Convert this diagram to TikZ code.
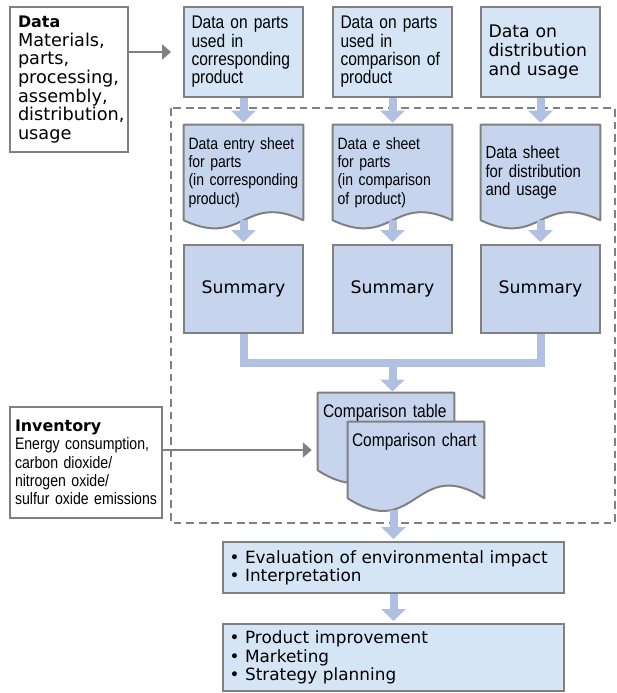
\documentclass[tikz,border=0pt]{standalone}
\usepackage{fontspec}
\newfontfamily\widefont{DejaVu Sans}
\newfontfamily\narrowfont[FakeStretch=0.85]{Liberation Sans}
\usetikzlibrary{arrows.meta,backgrounds}
\definecolor{Sky15}{HTML}{D5E5F5}
\definecolor{Sky30}{HTML}{C6D4EE}
\definecolor{Sky50}{HTML}{AFC0E3}
\definecolor{Black50}{HTML}{808080}
\hyphenpenalty=10000
\exhyphenpenalty=10000

% document outline with a wavy lower edge: #1 node, #2 wave depth
\newcommand{\docshape}[2]{%
  \path[docline] (#1.north west) -- (#1.north east) -- (#1.south east)
    .. controls ([yshift=#2]#1.south) and ([yshift=-#2]#1.south) .. (#1.south west)
    -- cycle;}

\begin{document}
\begin{tikzpicture}[
    box/.style={draw=Black50, line width=1.4pt, fill=Sky15, inner sep=0pt},
    colbox/.style={box, minimum width=2.975cm, minimum height=2.25cm,
      text width=2.6cm, align=left},
    sheet/.style={inner sep=0pt, minimum width=2.975cm, minimum height=2.375cm,
      text width=2.75cm, align=left, font=\narrowfont\fontsize{11.7}{13}\selectfont},
    sumbox/.style={box, fill=Sky30, minimum width=2.975cm, minimum height=2.2cm,
      font=\widefont\fontsize{12.3}{13.2}\selectfont},
    docline/.style={draw=Black50, line width=1.4pt, fill=Sky30, line join=round},
    flow/.style={Sky50, line width=0.2cm, -{Triangle[width=0.6cm, length=0.3cm]},
      shorten >=0.05cm},
    feed/.style={Black50, line width=2pt, -{Triangle[width=0.37cm, length=0.22cm]}},
  ]

  \useasboundingbox (0,0) rectangle (15.4,-17.325);

  % -------------------------------------------------------
  % Dashed frame round the processing steps
  % -------------------------------------------------------
  \draw[Black50, line width=1.4pt, dash pattern=on 5.5pt off 3.5pt]
    (4.275,-2.7) rectangle (15.375,-13.075);

  % -------------------------------------------------------
  % Input boxes
  % -------------------------------------------------------
  \node[box, fill=white, minimum width=2.95cm, minimum height=3.625cm,
        text width=2.55cm, align=left, font=\widefont\fontsize{12.6}{13.3}\selectfont]
    (data) at (1.725,-1.9875)
    {{\bfseries\fontsize{11.3}{13.3}\selectfont Data}\\Materials,\\parts,\\processing,\\assembly,\\distribution,\\usage};

  \node[colbox, font=\narrowfont\fontsize{13}{13}\selectfont] (topA) at (6.0875,-1.3)
    {Data on parts\\used in\\corresponding\\product};
  \node[colbox, font=\narrowfont\fontsize{13}{13}\selectfont] (topB) at (9.8125,-1.3)
    {Data on parts\\used in\\comparison of\\product};
  \node[colbox, font=\widefont\fontsize{12.3}{13.2}\selectfont] (topC) at (13.5125,-1.3)
    {Data on\\distribution\\and usage};

  % -------------------------------------------------------
  % Entry sheets and summaries
  % -------------------------------------------------------
  \node[sheet] (sheetA) at (6.0875,-4.3125)
    {Data entry sheet\\for parts\\(in corresponding\\product)};
  \node[sheet] (sheetB) at (9.8125,-4.3125)
    {Data e sheet\\for parts\\(in comparison\\of product)};
  \node[sheet, font=\narrowfont\fontsize{12.5}{13}\selectfont] (sheetC) at (13.5125,-4.3125)
    {Data sheet\\for distribution\\and usage};

  \node[sumbox] (sumA) at (6.0875,-7.225) {Summary};
  \node[sumbox] (sumB) at (9.8125,-7.225) {Summary};
  \node[sumbox] (sumC) at (13.5125,-7.225) {Summary};

  % -------------------------------------------------------
  % Comparison table and chart
  % -------------------------------------------------------
  \node[inner sep=0pt, minimum width=3.4cm, text width=3.15cm, align=left,
        text height=0.615cm, text depth=1.31cm,
        font=\narrowfont\fontsize{13}{13}\selectfont]
    (tab) at (9.65,-10.7875) {Comparison table};
  \node[inner sep=0pt, minimum width=3.4cm, text width=3.2cm, align=left,
        text height=0.615cm, text depth=1.285cm,
        font=\narrowfont\fontsize{13}{13}\selectfont]
    (chart) at (10.4,-11.5) {Comparison chart};

  \begin{pgfonlayer}{background}
    \docshape{sheetA}{0.7cm}
    \docshape{sheetB}{0.7cm}
    \docshape{sheetC}{0.7cm}
    \docshape{tab}{1.1cm}
    \docshape{chart}{1.1cm}
  \end{pgfonlayer}

  \node[box, fill=white, minimum width=3.8cm, minimum height=2.775cm,
        text width=3.55cm, align=left, font=\narrowfont\fontsize{11.8}{13}\selectfont]
    (inv) at (2.15,-11.5625)
    {{\widefont\bfseries\fontsize{11.3}{13}\selectfont Inventory}\\Energy consumption,\\carbon dioxide/\\nitrogen oxide/\\sulfur oxide emissions};

  % -------------------------------------------------------
  % Results
  % -------------------------------------------------------
  \node[box, minimum width=8.525cm, minimum height=1.275cm, text width=8.2cm,
        align=left, font=\widefont\fontsize{12}{13}\selectfont]
    (eval) at (9.8375,-14.1875)
    {• Evaluation of environmental impact\\• Interpretation};
  \node[box, minimum width=8.525cm, minimum height=1.675cm, text width=8.2cm,
        align=left, font=\widefont\fontsize{12}{13}\selectfont]
    (act) at (9.8375,-16.4375)
    {• Product improvement\\• Marketing\\• Strategy planning};

  % -------------------------------------------------------
  % Connectors
  % -------------------------------------------------------
  \draw[feed, shorten >=0.3cm] (data.east |- topA.west) -- (topA.west);

  \draw[flow] (topA.south) -- (sheetA.north);
  \draw[flow] (topB.south) -- (sheetB.north);
  \draw[flow] (topC.south) -- (sheetC.north);

  \draw[flow] (sheetA.south) -- (sumA.north);
  \draw[flow] (sheetB.south) -- (sumB.north);
  \draw[flow] (sheetC.south) -- (sumC.north);

  % summaries merge into one bar
  \coordinate (merge) at (9.8125,-9.075);
  \draw[Sky50, line width=0.2cm, line join=miter]
    (sumA.south) |- (merge) -| (sumC.south);
  \draw[flow, shorten >=0.03cm] (merge) -- (merge |- tab.north);

  % inventory feeds the comparison
  \coordinate (invout) at ([yshift=0.3125cm]inv.east);
  \draw[feed, shorten >=0.15cm] (invout) -- (invout -| tab.west);

  \coordinate (chartout) at ([yshift=-0.3cm]chart.south);
  \draw[flow] (chartout -| eval.north) -- (eval.north);
  \draw[flow] (eval.south) -- (act.north);

\end{tikzpicture}
\end{document}
